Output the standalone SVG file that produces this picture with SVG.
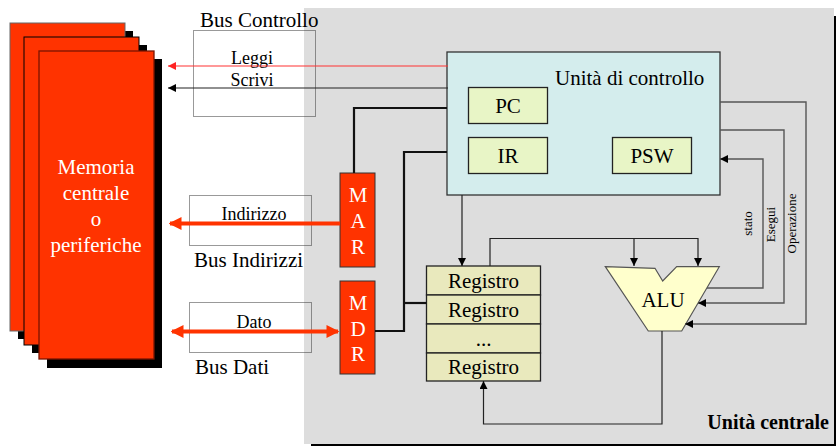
<svg xmlns="http://www.w3.org/2000/svg" width="836" height="447" viewBox="0 0 836 447">
<style>
text{font-family:"Liberation Serif","Times New Roman",serif;fill:#000}
.big{font-size:21px}
.mid{font-size:18px}
.sm{font-size:13px}
.w{fill:#fff}
.c{text-anchor:middle}
.dot{fill:none;stroke:#333;stroke-width:1;stroke-dasharray:1 1}
.reg{fill:#e9e9bd;stroke:#222;stroke-width:1.3}
.in{fill:#e8f5c6;stroke:#222;stroke-width:1.3}
.red{fill:#ff3300}
.thin{fill:none;stroke:#222;stroke-width:1.2}
.thick{fill:none;stroke:#111;stroke-width:2.2}
.gr{fill:none;stroke:#555;stroke-width:1.4}
.rbus{fill:none;stroke:#ff3300;stroke-width:4}
</style>
<defs>
<marker id="ah" viewBox="0 0 10 10" refX="10" refY="5" markerWidth="8" markerHeight="8" markerUnits="userSpaceOnUse" orient="auto-start-reverse"><path d="M0,0 L10,5 L0,10 z" fill="#000"/></marker>
<marker id="ahr" viewBox="0 0 10 10" refX="10" refY="5" markerWidth="8" markerHeight="8" markerUnits="userSpaceOnUse" orient="auto-start-reverse"><path d="M0,0 L10,5 L0,10 z" fill="#ff2222"/></marker>
<marker id="big" viewBox="0 0 10 10" refX="9" refY="5" markerWidth="3.2" markerHeight="3.4" orient="auto-start-reverse"><path d="M0,0 L10,5 L0,10 z" fill="#ff3300"/></marker>
</defs>

<g id="unita-centrale">
<rect x="311" y="16" width="525" height="430" fill="#000"/>
<rect x="304" y="8" width="530" height="436" fill="#dddddd"/>
<text x="829" y="429" style="font-size:20px;font-weight:bold;text-anchor:end">Unità centrale</text>
</g>

<g id="memoria">
<rect x="18" y="31" width="115" height="308" fill="#000"/>
<rect x="10" y="23" width="115" height="308" class="red" stroke="#666" stroke-width="1"/>
<rect x="32" y="45" width="115" height="308" fill="#000"/>
<rect x="24" y="37" width="115" height="308" class="red" stroke="#000" stroke-width="1"/>
<rect x="47" y="59" width="115" height="309" fill="#000"/>
<rect x="39" y="51" width="115" height="308" class="red" stroke="#7a1500" stroke-width="1.3"/>
<text class="big w c" x="96" y="174">Memoria</text>
<text class="big w c" x="96" y="200">centrale</text>
<text class="big w c" x="96" y="226">o</text>
<text class="big w c" x="96" y="252">periferiche</text>
</g>

<g id="bus-controllo">
<rect class="dot" x="193.5" y="30.5" width="122" height="86"/>
<text class="big" x="200" y="27">Bus Controllo</text>
<text class="mid c" x="252" y="64">Leggi</text>
<text class="mid c" x="252" y="86">Scrivi</text>
</g>

<g id="bus-indirizzi">
<rect class="dot" x="189.5" y="195.5" width="122" height="50"/>
<text class="mid c" x="254" y="220">Indirizzo</text>
<text class="big" x="194" y="267">Bus Indirizzi</text>
</g>

<g id="bus-dati">
<rect class="dot" x="189.5" y="302.5" width="122" height="50"/>
<text class="mid c" x="254" y="328">Dato</text>
<text class="big" x="195" y="374">Bus Dati</text>
</g>

<g id="mar">
<rect x="340" y="173" width="35" height="94" class="red" stroke="#333" stroke-width="1"/>
<text class="big w c" x="358" y="202">M</text>
<text class="big w c" x="358" y="228">A</text>
<text class="big w c" x="358" y="254">R</text>
</g>

<g id="mdr">
<rect x="340" y="281" width="35" height="93" class="red" stroke="#333" stroke-width="1"/>
<text class="big w c" x="358" y="310">M</text>
<text class="big w c" x="358" y="336">D</text>
<text class="big w c" x="358" y="361">R</text>
</g>

<g id="unita-controllo">
<rect x="447" y="52" width="273" height="143" fill="#d4eded" stroke="#333" stroke-width="1.3"/>
<text class="big" x="555" y="85">Unità di controllo</text>
</g>
<g id="pc">
<rect class="in" x="468.5" y="87.5" width="79" height="36"/>
<text class="big c" x="508" y="113">PC</text>
</g>
<g id="ir">
<rect class="in" x="468.5" y="137.5" width="79" height="36"/>
<text class="big c" x="508" y="163">IR</text>
</g>
<g id="psw">
<rect class="in" x="612.5" y="137.5" width="79" height="36"/>
<text class="big c" x="652" y="163">PSW</text>
</g>

<g id="registri">
<rect class="reg" x="426.5" y="266" width="114" height="29"/>
<rect class="reg" x="426.5" y="295" width="114" height="29"/>
<rect class="reg" x="426.5" y="324" width="114" height="29"/>
<rect class="reg" x="426.5" y="353" width="114" height="28"/>
<text class="big c" x="483.5" y="288">Registro</text>
<text class="big c" x="483.5" y="317">Registro</text>
<text class="big c" x="483.5" y="346">...</text>
<text class="big c" x="483.5" y="374">Registro</text>
</g>

<g id="alu">
<polygon points="605.3,266.7 655,268.3 662.7,281 676.7,266.7 719.3,266.7 681.7,331 648.3,331" fill="#ffffcc" stroke="#555" stroke-width="1.2"/>
<text class="big c" x="663" y="307">ALU</text>
</g>

<g id="connettori">
<line x1="448" y1="66" x2="168" y2="66" stroke="#ff3333" stroke-width="1.2" marker-end="url(#ahr)"/>
<line x1="448" y1="88" x2="168" y2="88" stroke="#222" stroke-width="1.2" marker-end="url(#ah)"/>
<line class="rbus" x1="340" y1="223.5" x2="170" y2="223.5" marker-end="url(#big)"/>
<line class="rbus" x1="172" y1="331.5" x2="338" y2="331.5" marker-start="url(#big)" marker-end="url(#big)"/>
<polyline class="thick" points="447,108 354,108 354,173"/>
<polyline class="thick" points="447,152 404,152 404,331 375,331"/>
<line class="thick" x1="404" y1="303" x2="426.5" y2="303"/>
<line class="thin" x1="462" y1="195" x2="462" y2="266" marker-end="url(#ah)"/>
<polyline class="thin" points="490,266 490,238.5 698,238.5 698,266" marker-end="url(#ah)"/>
<line class="thin" x1="634" y1="238.5" x2="634" y2="266" marker-end="url(#ah)"/>
<polyline class="thin" points="662,331 662,424 483.5,424 483.5,381" marker-end="url(#ah)"/>
<polyline class="gr" points="707,288 763,288 763,159 720,159" marker-end="url(#ah)"/>
<polyline class="gr" points="720,130 784,130 784,303 698,303" marker-end="url(#ah)"/>
<polyline class="gr" points="720,102 806,102 806,324 685,324" marker-end="url(#ah)"/>
<text class="sm c" transform="translate(752,223.5) rotate(-90)">stato</text>
<text class="sm c" transform="translate(775,224.5) rotate(-90)">Esegui</text>
<text class="sm c" transform="translate(796,223.5) rotate(-90)">Operazione</text>
</g>
</svg>
